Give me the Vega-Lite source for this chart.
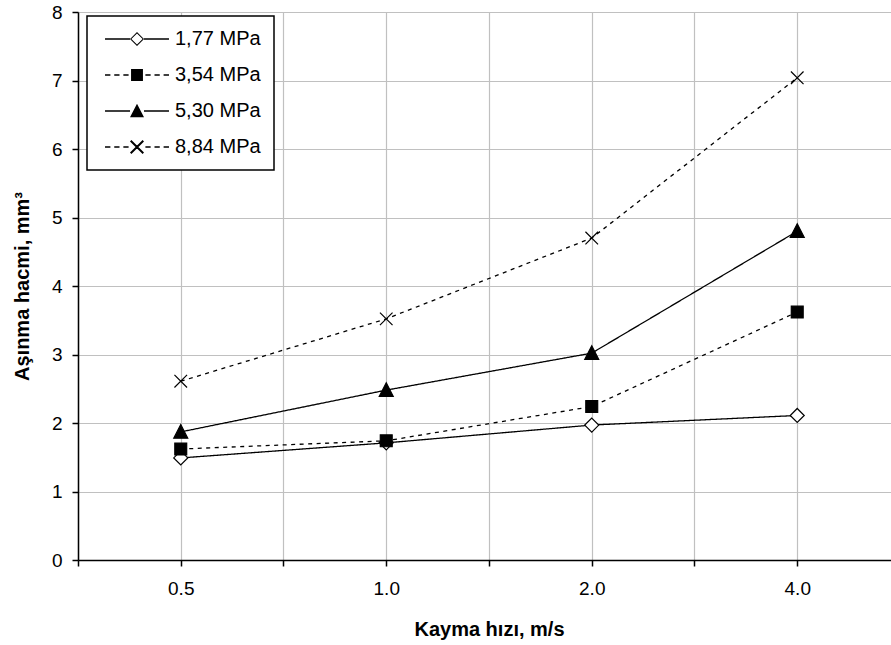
{
  "$schema": "https://vega.github.io/schema/vega-lite/v6.json",
  "width": 813,
  "height": 548,
  "autosize": {"type": "none"},
  "padding": {"left": 78, "top": 12, "right": 0, "bottom": 85},
  "background": "white",
  "config": {"view": {"stroke": null}, "font": "Liberation Sans", "legend": {"strokeWidth": 1.5}},
  "data": {
    "values": [
      {"series": "1,77 MPa", "speed": 0.5, "volume": 1.49},
      {"series": "1,77 MPa", "speed": 1, "volume": 1.71},
      {"series": "1,77 MPa", "speed": 2, "volume": 1.97},
      {"series": "1,77 MPa", "speed": 4, "volume": 2.11},
      {"series": "3,54 MPa", "speed": 0.5, "volume": 1.62},
      {"series": "3,54 MPa", "speed": 1, "volume": 1.74},
      {"series": "3,54 MPa", "speed": 2, "volume": 2.24},
      {"series": "3,54 MPa", "speed": 4, "volume": 3.62},
      {"series": "5,30 MPa", "speed": 0.5, "volume": 1.87},
      {"series": "5,30 MPa", "speed": 1, "volume": 2.48},
      {"series": "5,30 MPa", "speed": 2, "volume": 3.02},
      {"series": "5,30 MPa", "speed": 4, "volume": 4.8},
      {"series": "8,84 MPa", "speed": 0.5, "volume": 2.61},
      {"series": "8,84 MPa", "speed": 1, "volume": 3.52},
      {"series": "8,84 MPa", "speed": 2, "volume": 4.7},
      {"series": "8,84 MPa", "speed": 4, "volume": 7.04}
    ]
  },
  "encoding": {
    "x": {
      "field": "speed",
      "type": "quantitative",
      "scale": {"type": "log", "base": 2, "domain": [0.3535534, 5.488], "nice": false, "zero": false},
      "axis": {
        "values": [0.3535534, 0.5, 0.7071068, 1, 1.4142136, 2, 2.8284271, 4],
        "labelExpr": "(datum.value == 0.5 || datum.value == 1 || datum.value == 2 || datum.value == 4) ? format(datum.value, '.1f') : ''",
        "grid": true,
        "gridColor": "#c0c0c0",
        "gridWidth": 1.2,
        "domainColor": "black",
        "domainWidth": 1.5,
        "tickColor": "black",
        "tickSize": 6,
        "tickWidth": 1.5,
        "labelFontSize": 19,
        "labelColor": "black",
        "labelPadding": 13,
        "labelFlush": false,
        "labelOverlap": false,
        "title": "Kayma hızı, m/s",
        "titleFontSize": 20,
        "titleFontWeight": "bold",
        "titleColor": "black",
        "titleBaseline": "alphabetic",
        "titleX": 411,
        "titleY": 75
      }
    },
    "y": {
      "field": "volume",
      "type": "quantitative",
      "scale": {"domain": [0, 8], "nice": false},
      "axis": {
        "values": [0, 1, 2, 3, 4, 5, 6, 7, 8],
        "grid": true,
        "gridColor": "#c0c0c0",
        "gridWidth": 1.2,
        "domainColor": "black",
        "domainWidth": 1.5,
        "tickColor": "black",
        "tickSize": 6,
        "tickWidth": 1.5,
        "labelFontSize": 19,
        "labelColor": "black",
        "labelPadding": 10,
        "labelFlush": false,
        "title": "Aşınma hacmi, mm³",
        "titleFontSize": 20,
        "titleFontWeight": "bold",
        "titleColor": "black",
        "titleBaseline": "alphabetic",
        "titleAngle": -90,
        "titleX": -50,
        "titleY": 274
      }
    }
  },
  "layer": [
    {
      "mark": {"type": "line", "interpolate": "linear", "color": "black", "strokeWidth": 1.3},
      "encoding": {
        "detail": {"field": "series"},
        "strokeDash": {
          "field": "series",
          "type": "nominal",
          "scale": {"domain": ["1,77 MPa", "3,54 MPa", "5,30 MPa", "8,84 MPa"], "range": [[1, 0], [4, 4.5], [1, 0], [4, 4.5]]},
          "legend": null
        }
      }
    },
    {
      "mark": {"type": "point", "filled": true, "stroke": "black", "strokeWidth": 1.2, "size": 196, "opacity": 1},
      "encoding": {
        "shape": {
          "field": "series",
          "type": "nominal",
          "scale": {
            "domain": ["1,77 MPa", "3,54 MPa", "5,30 MPa", "8,84 MPa"],
            "range": [
              "M0,-1L1,0L0,1L-1,0Z",
              "M-0.85,-0.85H0.85V0.85H-0.85Z",
              "M0,-1.05L1,0.9L-1,0.9Z",
              "M-0.9,-0.9L0.9,0.9M-0.9,0.9L0.9,-0.9"
            ]
          },
          "legend": null
        },
        "fill": {
          "field": "series",
          "type": "nominal",
          "scale": {"domain": ["1,77 MPa", "3,54 MPa", "5,30 MPa", "8,84 MPa"], "range": ["white", "black", "black", "transparent"]},
          "legend": null
        }
      }
    },
    {
      "mark": {"type": "point", "filled": true, "color": "black", "opacity": 0, "size": 196},
      "encoding": {
        "shape": {
          "field": "series",
          "type": "nominal",
          "scale": {
            "domain": ["1,77 MPa", "3,54 MPa", "5,30 MPa", "8,84 MPa"],
            "range": [
              "M-4.57,-0.09H-1V0.09H-4.57ZM1,-0.09H4.57V0.09H1ZM0,-1L1,0L0,1L-1,0ZM0,-0.8L-0.8,0L0,0.8L0.8,0Z",
              "M-4.57,-0.09H-3.8V0.09H-4.57ZM-3.25,-0.09H-2.5V0.09H-3.25ZM-1.95,-0.09H-1.2V0.09H-1.95ZM1.2,-0.09H1.95V0.09H1.2ZM2.5,-0.09H3.25V0.09H2.5ZM3.8,-0.09H4.57V0.09H3.8ZM-0.85,-0.85H0.85V0.85H-0.85Z",
              "M-4.57,-0.09H-1V0.09H-4.57ZM1,-0.09H4.57V0.09H1ZM0,-1.05L1,0.9L-1,0.9Z",
              "M-4.57,-0.09H-3.8V0.09H-4.57ZM-3.25,-0.09H-2.5V0.09H-3.25ZM-1.95,-0.09H-1.2V0.09H-1.95ZM1.2,-0.09H1.95V0.09H1.2ZM2.5,-0.09H3.25V0.09H2.5ZM3.8,-0.09H4.57V0.09H3.8ZM-1,-0.8L-0.8,-1L1,0.8L0.8,1ZM0.8,-1L1,-0.8L-0.8,1L-1,0.8Z"
            ]
          },
          "legend": {
            "title": null,
            "orient": "none",
            "legendX": 9,
            "legendY": 4,
            "fillColor": "white",
            "strokeColor": "black",
            "padding": 13,
            "symbolSize": 196,
            "symbolOffset": 27,
            "labelOffset": 28,
            "labelFontSize": 20,
            "labelColor": "black",
            "rowPadding": 16,
            "symbolStrokeWidth": 0,
            "symbolFillColor": "black",
            "symbolOpacity": 1
          }
        }
      }
    }
  ],
  "resolve": {"scale": {"shape": "independent"}, "legend": {"shape": "independent"}}
}
